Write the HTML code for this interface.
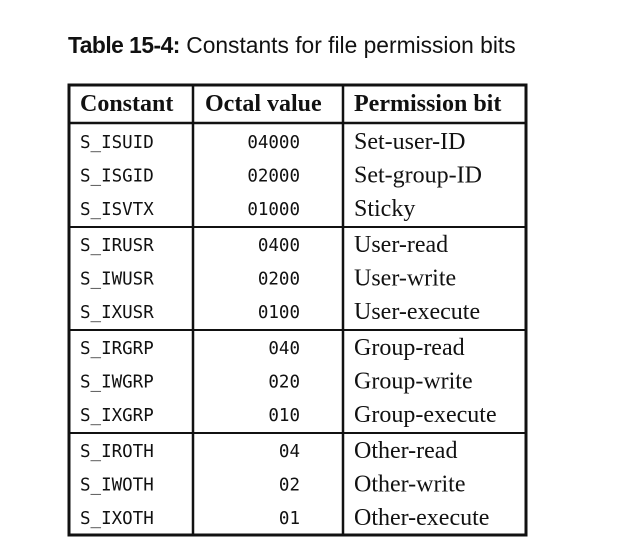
<!DOCTYPE html>
<html><head><meta charset="utf-8"><style>
html,body{margin:0;padding:0;background:#fff;width:623px;height:555px;overflow:hidden}
svg{display:block}
.t{font-family:"Liberation Sans",sans-serif;font-size:22.8px;fill:#111}
.h{font-family:"Liberation Serif",serif;font-weight:bold;font-size:24px;fill:#111}
.m{font-family:"DejaVu Sans Mono","Liberation Mono",monospace;font-size:17.5px;fill:#111}
.s{font-family:"Liberation Serif",serif;font-size:24px;fill:#111}
</style></head><body>
<svg width="623" height="555">
<text x="68" y="53" class="t"><tspan font-weight="bold" letter-spacing="-0.5">Table 15-4:</tspan> Constants for file permission bits</text>
<g id="grid" stroke="#111" fill="none">
<rect x="69" y="85" width="457" height="450" stroke-width="3"/>
<line x1="69" y1="123" x2="526" y2="123" stroke-width="2.5"/>
<line x1="69" y1="227" x2="526" y2="227" stroke-width="2"/>
<line x1="69" y1="330" x2="526" y2="330" stroke-width="2"/>
<line x1="69" y1="433" x2="526" y2="433" stroke-width="2"/>
<line x1="193" y1="85" x2="193" y2="535" stroke-width="2.5"/>
<line x1="343" y1="85" x2="343" y2="535" stroke-width="2.5"/>
</g>
<text x="80" y="111" class="h">Constant</text>
<text x="205" y="111" class="h">Octal value</text>
<text x="354" y="111" class="h">Permission bit</text>
<g id="rows"></g>
</svg>
<script>
const constants=["S_ISUID","S_ISGID","S_ISVTX","S_IRUSR","S_IWUSR","S_IXUSR","S_IRGRP","S_IWGRP","S_IXGRP","S_IROTH","S_IWOTH","S_IXOTH"];
const octals=["04000","02000","01000","0400","0200","0100","040","020","010","04","02","01"];
const perms=["Set-user-ID","Set-group-ID","Sticky","User-read","User-write","User-execute","Group-read","Group-write","Group-execute","Other-read","Other-write","Other-execute"];
const g=document.getElementById('rows');
const NS="http://www.w3.org/2000/svg";
const groupTops=[127,230,333,436];
constants.forEach((c,i)=>{
  const y=groupTops[Math.floor(i/3)]+20+(i%3)*33.5;
  const a=document.createElementNS(NS,'text');
  a.setAttribute('x',80);a.setAttribute('y',y+1);a.setAttribute('class','m');a.textContent=c;
  
  
  g.appendChild(a);
  const b=document.createElementNS(NS,'text');
  b.setAttribute('x',300);b.setAttribute('y',y+1);b.setAttribute('class','m');b.setAttribute('text-anchor','end');b.textContent=octals[i];
  
  
  g.appendChild(b);
  const d=document.createElementNS(NS,'text');
  d.setAttribute('x',354);d.setAttribute('y',y+2);d.setAttribute('class','s');d.textContent=perms[i];
  
  
  g.appendChild(d);
});
</script>
</body></html>
